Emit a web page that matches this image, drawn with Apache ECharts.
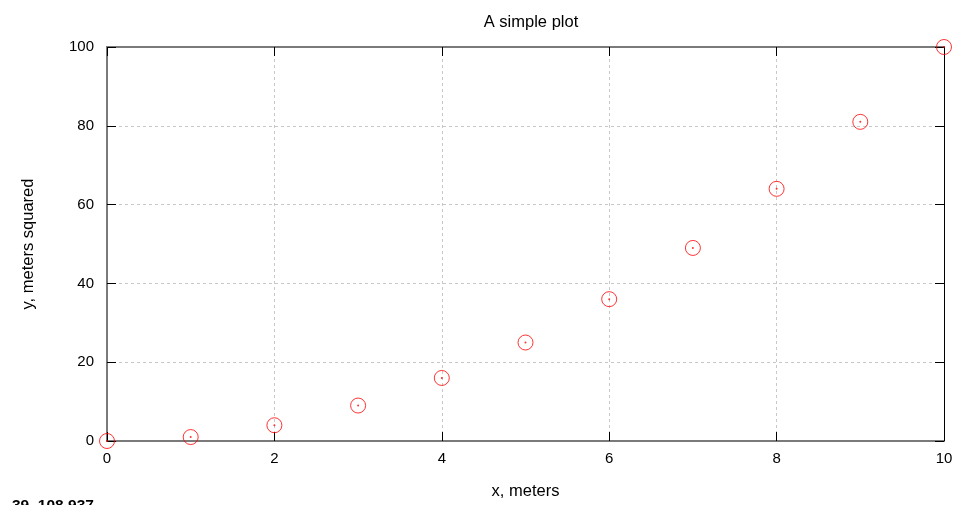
<!DOCTYPE html>
<html>
<head>
<meta charset="utf-8">
<script src="https://cdn.jsdelivr.net/npm/echarts@6/dist/echarts.min.js"></script>
<style>html,body{margin:0;padding:0;background:#fff;}#c{width:956px;height:505px;}</style>
</head>
<body>
<div id="c"></div>
<script>
var titleText = "A simple plot";
var xName = "x, meters";
var yName = "y, meters squared";
var xValues = [0, 1, 2, 3, 4, 5, 6, 7, 8, 9, 10];
var yValues = [0, 1, 4, 9, 16, 25, 36, 49, 64, 81, 100];
var statusText = "39, 108.937";

var pts = xValues.map(function (x, i) { return [x, yValues[i]]; });
var font = "Liberation Sans, Arial, sans-serif";
var chart = echarts.init(document.getElementById('c'));
var tickStyle = {show: true, inside: true, length: 9, lineStyle: {color: '#000', width: 1}};
var gridLine = {show: true, lineStyle: {color: '#c8c8c8', type: [3, 3], width: 1}};
chart.setOption({
  animation: false,
  title: {text: titleText, left: 526, textAlign: 'center', top: 9,
    textStyle: {fontFamily: font, fontSize: 16.5, fontWeight: 'normal', color: '#000'}},
  grid: {left: 107, right: 12, top: 47, bottom: 64},
  xAxis: [{
    type: 'value', min: 0, max: 10, interval: 2, position: 'bottom',
    name: xName, nameLocation: 'middle', nameGap: 42,
    nameTextStyle: {fontFamily: font, fontSize: 16.5, color: '#000'},
    axisLine: {show: true, onZero: false, lineStyle: {color: '#7a7a7a', width: 2}},
    axisTick: tickStyle,
    axisLabel: {fontFamily: font, fontSize: 15, color: '#000', margin: 10},
    splitLine: gridLine
  }, {
    type: 'value', min: 0, max: 10, interval: 2, position: 'top',
    axisLine: {show: true, onZero: false, lineStyle: {color: '#7a7a7a', width: 2}},
    axisTick: tickStyle, axisLabel: {show: false}, splitLine: {show: false}
  }],
  yAxis: [{
    type: 'value', min: 0, max: 100, interval: 20, position: 'left',
    name: yName, nameLocation: 'middle', nameGap: 70, nameRotate: 90,
    nameTextStyle: {fontFamily: font, fontSize: 16.5, color: '#000'},
    axisLine: {show: true, onZero: false, lineStyle: {color: '#7a7a7a', width: 2}},
    axisTick: tickStyle,
    axisLabel: {fontFamily: font, fontSize: 15, color: '#000', margin: 13},
    splitLine: gridLine
  }, {
    type: 'value', min: 0, max: 100, interval: 20, position: 'right',
    axisLine: {show: true, onZero: false, lineStyle: {color: '#000', width: 1}},
    axisTick: tickStyle, axisLabel: {show: false}, splitLine: {show: false}
  }],
  graphic: [{type: 'text', left: 12, top: 498,
    style: {text: statusText, font: 'bold 15.5px ' + font, fill: '#000'}}],
  series: [{
    type: 'scatter', data: pts, symbol: 'circle', symbolSize: 15,
    itemStyle: {color: 'rgba(0,0,0,0)', borderColor: '#ff0000', borderWidth: 1},
    clip: false, z: 5
  }, {
    type: 'scatter', data: pts, symbol: 'circle', symbolSize: 2,
    itemStyle: {color: '#ff0000'}, clip: false, z: 6
  }]
});
</script>
</body>
</html>
